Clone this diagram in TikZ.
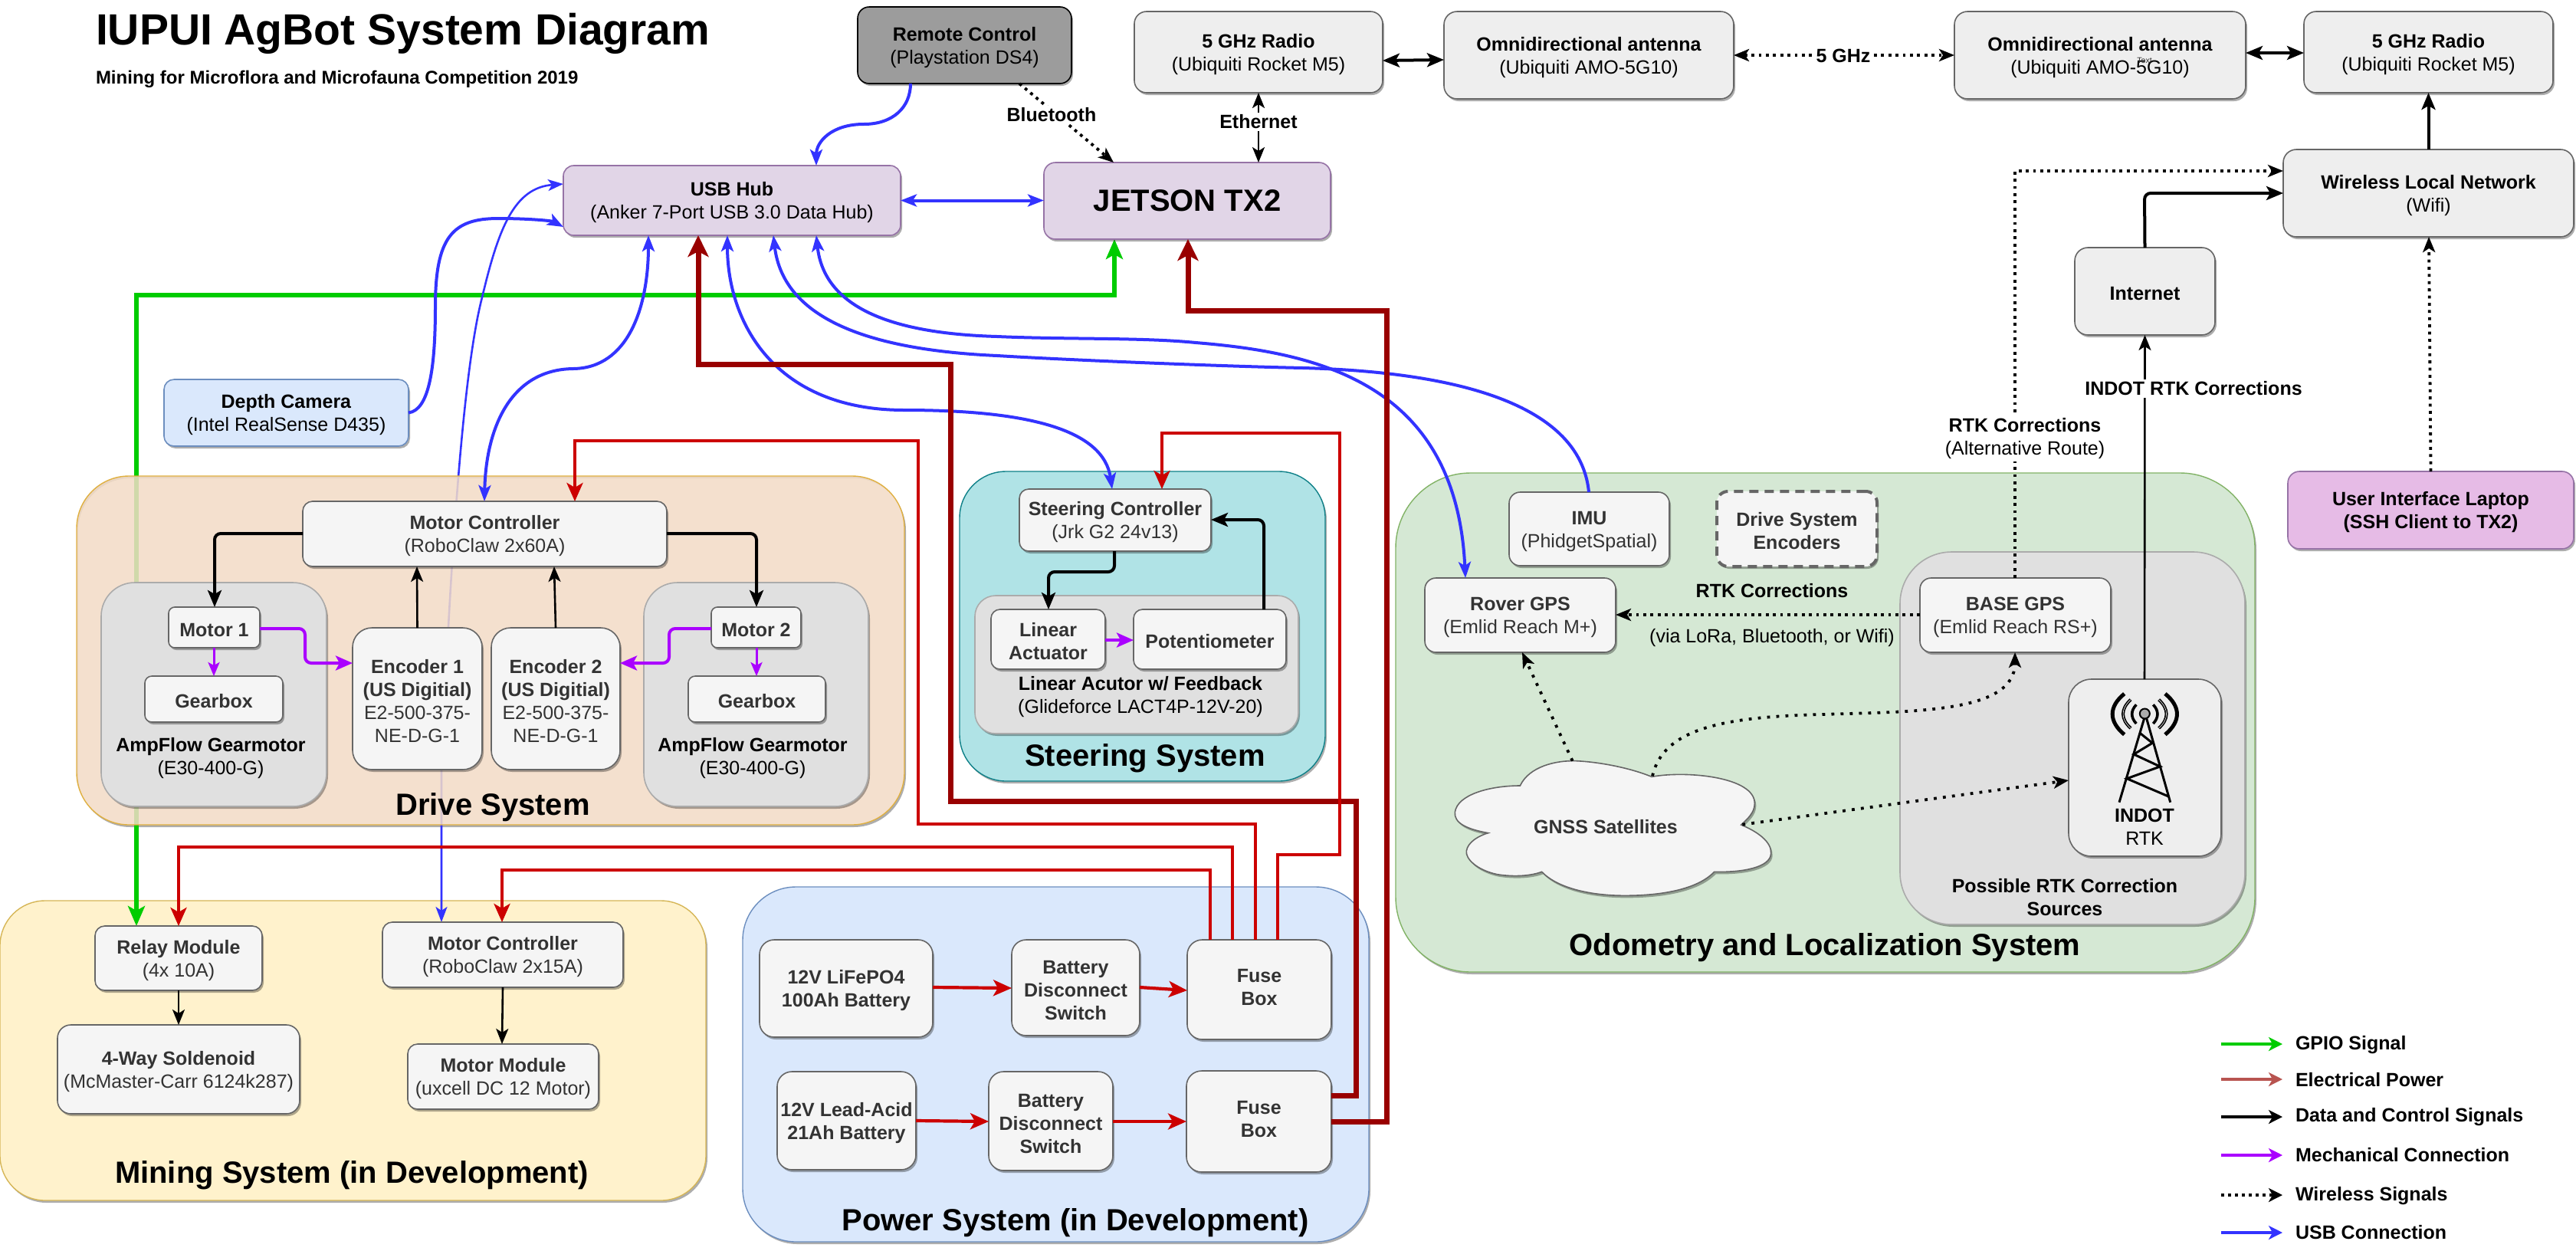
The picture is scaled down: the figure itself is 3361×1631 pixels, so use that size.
\documentclass[tikz,border=0pt]{standalone}
\usepackage{fontspec}
\setmainfont{Liberation Sans}
\usetikzlibrary{arrows.meta,shadows,calc}
\definecolor{cGreen}{HTML}{00CC00}
\definecolor{cRed}{HTML}{CC0000}
\definecolor{cDark}{HTML}{990000}
\definecolor{cBlue}{HTML}{3333FF}
\definecolor{cPurple}{HTML}{AA00FF}
\definecolor{cElec}{HTML}{B85450}
\definecolor{cText}{HTML}{333333}
\pgfdeclarelayer{back}
\pgfdeclarelayer{under}
\pgfsetlayers{back,under,main}
\colorlet{HTMLa}{black!60}
\definecolor{HTMLb}{HTML}{F5F5F5}
\definecolor{HTMLc}{HTML}{EEEEEE}
\definecolor{HTMLd}{HTML}{9673A6}
\definecolor{HTMLe}{HTML}{E1D5E7}
\definecolor{HTMLf}{HTML}{E6BBE6}
\definecolor{HTMLg}{HTML}{6C8EBF}
\definecolor{HTMLh}{HTML}{DAE8FC}
\definecolor{HTMLi}{HTML}{9C9C9C}
\definecolor{HTMLj}{HTML}{ABABAB}
\definecolor{HTMLk}{HTML}{E0E0E0}
\definecolor{HTMLl}{HTML}{D6B656}
\definecolor{HTMLm}{HTML}{FFF2CC}
\definecolor{HTMLn}{HTML}{82B366}
\definecolor{HTMLo}{HTML}{D5E8D4}
\definecolor{HTMLp}{HTML}{0E8088}
\definecolor{HTMLq}{HTML}{B0E3E6}
\definecolor{HTMLr}{HTML}{E0B040}
\definecolor{HTMLs}{HTML}{F3DCC6}
\tikzset{
  x=1pt,y=-1pt,
  shad/.style={drop shadow={shadow xshift=2pt,shadow yshift=-3pt,opacity=.32,fill=black}},
  base/.style={inner sep=0pt,outer sep=0pt,align=center,font=\fontsize{25}{30}\selectfont},
  lightbox/.style={base,shad,draw=HTMLa,fill=HTMLb,line width=1.6pt,text=cText},
  topbox/.style={base,shad,draw=HTMLa,fill=HTMLc,line width=1.6pt,text=black},
  purplebox/.style={base,shad,draw=HTMLd,fill=HTMLe,line width=1.6pt,text=black},
  lapbox/.style={base,shad,draw=HTMLd,fill=HTMLf,line width=1.6pt,text=black},
  cambox/.style={base,shad,draw=HTMLg,fill=HTMLh,line width=1.6pt,text=black},
  remotebox/.style={base,shad,draw=black,fill=HTMLi,line width=1.6pt,text=black},
  innergroup/.style={base,shad,draw=HTMLj,fill=HTMLk,line width=1.6pt},
  lbl/.style={base,text=black},
  lblw/.style={base,text=black,fill=white,inner sep=3pt},
  grp/.style={base,font=\fontsize{40}{46}\selectfont\bfseries,text=black},
  blu/.style={draw=cBlue,line width=4pt,>={Stealth[length=21pt,width=16pt,inset=5pt]}},
  blut/.style={draw=cBlue,line width=2.6pt,>={Stealth[length=20pt,width=15pt,inset=5pt]}},
  grn/.style={draw=cGreen,line width=6.4pt,>={Stealth[length=26pt,width=22pt,inset=6pt]}},
  rd/.style={draw=cRed,line width=4.2pt,>={Stealth[length=24pt,width=21pt,inset=6pt]}},
  drd/.style={draw=cDark,line width=7pt,>={Stealth[length=28pt,width=27pt,inset=7pt]}},
  blk/.style={draw=black,line width=4pt,rounded corners=8pt,>={Stealth[length=22pt,width=18pt,inset=5pt]}},
  blkt/.style={draw=black,line width=2.6pt,>={Stealth[length=20pt,width=16pt,inset=5pt]}},
  prp/.style={draw=cPurple,line width=4pt,rounded corners=8pt,>={Stealth[length=22pt,width=19pt,inset=5pt]}},
  prpt/.style={draw=cPurple,line width=3pt,>={Stealth[length=18pt,width=15pt,inset=4pt]}},
  wl/.style={draw=black,line width=3.8pt,dash pattern=on 3.8pt off 5.6pt,>={Stealth[length=20pt,width=16pt,inset=5pt]}},
  wls/.style={draw=black,line width=3.8pt,dash pattern=on 3.8pt off 8.2pt,>={Stealth[length=20pt,width=16pt,inset=5pt]}},
  lgd/.style={line width=4.6pt,>={Stealth[length=18pt,width=18pt,inset=5pt]}},
}
\newcommand{\bx}[7]{%
  \pgfmathsetmacro\myW{#4-#2}\pgfmathsetmacro\myH{#5-#3}%
  \pgfmathsetmacro\myX{(#2+#4)/2}\pgfmathsetmacro\myY{(#3+#5)/2}%
  \pgfmathsetmacro\myR{0.15*min(\myW,\myH)}%
  \node[#6,minimum width=\myW pt,minimum height=\myH pt,rounded corners=\myR pt] (#1) at (\myX,\myY) {\rule{0pt}{24pt}#7};}
\newcommand{\two}[2]{\textbf{#1}\\#2}
\begin{document}
\begin{tikzpicture}
\begin{pgfonlayer}{back}
\path[fill=white] (0,0) rectangle (3361,1631);
\end{pgfonlayer}
\useasboundingbox (0,0) rectangle (3361,1631);

% ---------- system groups
\begin{pgfonlayer}{back}
\bx{mining}{0}{1175}{921}{1566}{base,shad,draw=HTMLl,fill=HTMLm,line width=1.4pt}{}
\bx{power}{969}{1157}{1786}{1620}{base,shad,draw=HTMLg,fill=HTMLh,line width=1.4pt}{}
\bx{odo}{1821}{617}{2942}{1268}{base,shad,draw=HTMLn,fill=HTMLo,line width=1.4pt}{}
\bx{steer}{1252}{615}{1729}{1019}{base,shad,draw=HTMLp,fill=HTMLq,line width=1.4pt}{}
\fill[black,opacity=.32,even odd rule,rounded corners=68.25pt] (102,624) rectangle (1182,1079) (100,621) rectangle (1180,1076);
\end{pgfonlayer}
\bx{drive}{100}{621}{1180}{1076}{base,draw=HTMLr,fill=HTMLs,fill opacity=.86,draw opacity=1,line width=1.4pt}{}

% ---------- inner groups
\bx{mg1}{132}{760}{426}{1052}{innergroup}{}
\bx{mg2}{840}{760}{1133}{1052}{innergroup}{}
\bx{lag}{1272}{777}{1694}{957}{innergroup}{}
\bx{rtkg}{2479}{720}{2929}{1206}{innergroup}{}

% ---------- top row
\bx{remote}{1119}{9}{1398}{109}{remotebox}{\two{Remote Control}{(Playstation DS4)}}
\bx{radioL}{1480}{15}{1804}{121}{topbox}{\two{5 GHz Radio}{(Ubiquiti Rocket M5)}}
\bx{omniL}{1884}{15}{2262}{129}{topbox}{\two{Omnidirectional antenna}{(Ubiquiti AMO-5G10)}}
\bx{omniR}{2550}{15}{2930}{129}{topbox}{\two{Omnidirectional antenna}{(Ubiquiti AMO-5G10)}}
\bx{radioR}{3006}{15}{3331}{121}{topbox}{\two{5 GHz Radio}{(Ubiquiti Rocket M5)}}
\bx{wln}{2979}{195}{3358}{309}{topbox}{\two{Wireless Local Network}{(Wifi)}}
\bx{inet}{2707}{323}{2890}{437}{topbox}{\textbf{Internet}}
\bx{hub}{735}{216}{1175}{307}{purplebox}{\two{USB Hub}{(Anker 7-Port USB 3.0 Data Hub)}}
\bx{jetson}{1362}{212}{1736}{312}{purplebox,font=\fontsize{40}{46}\selectfont\bfseries}{JETSON TX2}
\bx{depth}{214}{495}{533}{582}{cambox}{\two{Depth Camera}{(Intel RealSense D435)}}
\bx{laptop}{2985}{615}{3358}{716}{lapbox}{\textbf{User Interface Laptop}\\\textbf{(SSH Client to TX2)}}

% ---------- drive
\bx{mc60}{395}{654}{870}{739}{lightbox}{\two{Motor Controller}{(RoboClaw 2x60A)}}
\bx{motor1}{220}{792}{339}{845}{lightbox}{\textbf{Motor 1}}
\bx{motor2}{928}{792}{1045}{845}{lightbox}{\textbf{Motor 2}}
\bx{gear1}{189}{882}{369}{942}{lightbox}{\textbf{Gearbox}}
\bx{gear2}{898}{882}{1077}{942}{lightbox}{\textbf{Gearbox}}
\bx{enc1}{460}{819}{629}{1004}{lightbox}{\textbf{Encoder 1}\\\textbf{(US Digitial)}\\E2-500-375-\\NE-D-G-1}
\bx{enc2}{641}{819}{809}{1004}{lightbox}{\textbf{Encoder 2}\\\textbf{(US Digitial)}\\E2-500-375-\\NE-D-G-1}
\node[lbl] (amp1) at (275,989) {\two{AmpFlow Gearmotor}{(E30-400-G)}};
\node[lbl] (amp2) at (982,989) {\two{AmpFlow Gearmotor}{(E30-400-G)}};
\node[grp] (driveT) at (643,1053) {Drive System};

% ---------- steering
\bx{sc}{1330}{638}{1580}{719}{lightbox}{\two{Steering Controller}{(Jrk G2 24v13)}}
\bx{la}{1293}{795}{1442}{873}{lightbox}{\textbf{Linear}\\\textbf{Actuator}}
\bx{pot}{1479}{795}{1678}{873}{lightbox}{\textbf{Potentiometer}}
\node[lbl] (lat) at (1488,909) {\two{Linear Acutor w/ Feedback}{(Glideforce LACT4P-12V-20)}};
\node[grp] (steerT) at (1494,989) {Steering System};

% ---------- odometry
\bx{imu}{1969}{642}{2178}{738}{lightbox}{\two{IMU}{(PhidgetSpatial)}}
\bx{dse}{2240}{641}{2449}{739}{lightbox,line width=4pt,dash pattern=on 12pt off 8pt}{\textbf{Drive System}\\\textbf{Encoders}}
\bx{rover}{1859}{754}{2108}{851}{lightbox}{\two{Rover GPS}{(Emlid Reach M+)}}
\bx{basegps}{2505}{754}{2754}{851}{lightbox}{\two{BASE GPS}{(Emlid Reach RS+)}}
\bx{indot}{2699}{886}{2898}{1117}{topbox}{}
\node[lbl] (indotT) at (2798,1079) {\two{INDOT}{RTK}};
\node[lbl] (rtkT) at (2694,1171) {\textbf{Possible RTK Correction}\\\textbf{Sources}};
\node[grp] (odoT) at (2381,1236) {Odometry and Localization System};
% tower icon
\begin{scope}[line width=3pt,draw=black]
  \draw (2798.3,935) -- (2765,1046.7) (2800,935) -- (2831.7,1046.7);
  \draw (2791.7,956) -- (2808.3,969.3) -- (2784,984) -- (2818.3,1000) -- (2775,1015.7) -- (2830,1039.3);
  \draw[fill=HTMLj,line width=2pt] (2798.3,931) circle[radius=6.5];
  \draw[line width=5pt] (2771.7,905) .. controls (2751,922) and (2751,941) .. (2771.7,958.3);
  \draw[line width=5pt] (2824.9,905) .. controls (2845.6,922) and (2845.6,941) .. (2824.9,958.3);
  \draw[line width=4pt] (2780,912.7) .. controls (2766.7,925) and (2766.7,938) .. (2780,950);
  \draw[line width=4pt] (2816.6,912.7) .. controls (2829.9,925) and (2829.9,938) .. (2816.6,950);
  \draw[line width=3.6pt] (2787.3,919.3) .. controls (2779.8,927) and (2779.8,936) .. (2787.3,944);
  \draw[line width=3.6pt] (2809.3,919.3) .. controls (2816.8,927) and (2816.8,936) .. (2809.3,944);
  \draw[line width=.7pt,draw=HTMLk] (2780,912.7) .. controls (2766.7,925) and (2766.7,938) .. (2780,950);
  \draw[line width=.7pt,draw=HTMLk] (2816.6,912.7) .. controls (2829.9,925) and (2829.9,938) .. (2816.6,950);
\end{scope}
% cloud
\begin{scope}[shift={(1880,980)},x=0.33333pt,y=-0.33333pt]
  \path[shad,draw=HTMLa,fill=HTMLb,line width=1.6pt]
    (310,135) .. controls (345,60) and (450,35) .. (530,38)
    .. controls (620,42) and (740,65) .. (825,100)
    .. controls (960,75) and (1230,100) .. (1228,205)
    .. controls (1228,240) and (1200,265) .. (1175,288)
    .. controls (1240,315) and (1295,355) .. (1292,400)
    .. controls (1290,455) and (1180,475) .. (1070,472)
    .. controls (1000,545) and (850,565) .. (720,565)
    .. controls (570,565) and (450,530) .. (395,472)
    .. controls (340,492) and (270,490) .. (220,482)
    .. controls (140,465) and (95,420) .. (100,390)
    .. controls (105,355) and (150,330) .. (185,320)
    .. controls (100,305) and (50,280) .. (55,238)
    .. controls (65,170) and (190,135) .. (310,135) -- cycle;
  \coordinate (gnssTop) at (515,38);
  \coordinate (gnssNotch) at (828,97);
  \coordinate (gnssRight) at (1180,287);
\end{scope}
\node[lbl,text=cText] (gnss) at (2095,1079) {\textbf{GNSS Satellites}};

% ---------- mining
\bx{relay}{124}{1208}{342}{1292}{lightbox}{\two{Relay Module}{(4x 10A)}}
\bx{sol}{75}{1337}{391}{1453}{lightbox}{\two{4-Way Soldenoid}{(McMaster-Carr 6124k287)}}
\bx{mc15}{499}{1203}{813}{1288}{lightbox}{\two{Motor Controller}{(RoboClaw 2x15A)}}
\bx{mm}{532}{1362}{781}{1447}{lightbox}{\two{Motor Module}{(uxcell DC 12 Motor)}}
\node[grp] (miningT) at (459,1533) {Mining System (in Development)};

% ---------- power
\bx{life}{991}{1226}{1217}{1353}{lightbox}{\textbf{12V LiFePO4}\\\textbf{100Ah Battery}}
\bx{bds1}{1320}{1226}{1487}{1351}{lightbox}{\textbf{Battery}\\\textbf{Disconnect}\\\textbf{Switch}}
\bx{fuse1}{1549}{1226}{1737}{1356}{lightbox}{\textbf{Fuse}\\\textbf{Box}\rule[-14pt]{0pt}{14pt}}
\bx{lead}{1014}{1398}{1195}{1526}{lightbox}{\textbf{12V Lead-Acid}\\\textbf{21Ah Battery}}
\bx{bds2}{1290}{1398}{1452}{1527}{lightbox}{\textbf{Battery}\\\textbf{Disconnect}\\\textbf{Switch}}
\bx{fuse2}{1548}{1397}{1737}{1529}{lightbox}{\textbf{Fuse}\\\textbf{Box}\rule[-14pt]{0pt}{14pt}}
\node[grp] (powerT) at (1403,1595) {Power System (in Development)};

% ---------- connectors behind the drive group
\begin{pgfonlayer}{under}
\draw[grn,<->] (1454,0 |- jetson.south) -- (1454,385) -- (178,385) -- (178,0 |- relay.north);
\draw[blut,<->] (hub.west |- 0,240) .. controls (670,245) and (650,300) .. (629,388)
   .. controls (600,500) and (585,800) .. (576,1000) -- (576,0 |- mc15.north);
\end{pgfonlayer}

% ---------- USB
\draw[blu,->] (1188,0 |- remote.south) .. controls (1188,140) and (1165,162) .. (1127,162)
   .. controls (1085,162) and (1065,185) .. (1065,0 |- hub.north);
\draw[blu,<->] (hub.east) -- (jetson.west |- hub.east);
\draw[blu,->] (depth.east) .. controls (560,535) and (568,480) .. (568,400)
   .. controls (568,310) and (590,285) .. (650,285) .. controls (690,285) and (720,288) .. (hub.west |- 0,296);
\draw[blu,<->] (846,0 |- hub.south) .. controls (846,400) and (820,480) .. (748,481)
   .. controls (665,482) and (634,560) .. (632,0 |- mc60.north);
\draw[blu,<->] (949,0 |- hub.south) .. controls (949,420) and (1010,535) .. (1180,535)
   .. controls (1340,535) and (1440,560) .. (1451,0 |- sc.north);
\draw[blu,->] (2073,0 |- imu.north) .. controls (2060,510) and (1850,484) .. (1700,480)
   .. controls (1600,478) and (1400,470) .. (1301,464)
   .. controls (1100,455) and (1020,400) .. (1009,0 |- hub.south);
\draw[blu,<->] (1065,0 |- hub.south) .. controls (1075,400) and (1160,435) .. (1301,439)
   .. controls (1390,443) and (1490,440) .. (1560,447)
   .. controls (1720,460) and (1900,500) .. (1912,0 |- rover.north);

% ---------- power lines
\draw[drd,->] (fuse2.east |- 0,1429) -- (1769,1429) -- (1769,1045) -- (1240,1045) -- (1240,475) -- (911,475) -- (911,0 |- hub.south);
\draw[drd,->] (fuse2.east |- 0,1463) -- (1809,1463) -- (1809,405) -- (1550,405) -- (1550,0 |- jetson.south);
\draw[rd,->] (1638,0 |- fuse1.north) -- (1638,1075) -- (1198,1075) -- (1198,575) -- (750,575) -- (750,0 |- mc60.north);
\draw[rd,->] (1667,0 |- fuse1.north) -- (1667,1115) -- (1748,1115) -- (1748,565) -- (1516,565) -- (1516,0 |- sc.north);
\draw[rd,->] (1608,0 |- fuse1.north) -- (1608,1105) -- (233,1105) -- (233,0 |- relay.north);
\draw[rd,->] (1579,0 |- fuse1.north) -- (1579,1135) -- (655,1135) -- (655,0 |- mc15.north);
\draw[rd,->] (life.east |- 0,1288) -- (bds1.west |- 0,1289);
\draw[rd,->] (bds1.east |- 0,1288) -- (fuse1.west |- 0,1292);
\draw[rd,->] (lead.east |- 0,1462) -- (bds2.west |- 0,1463);
\draw[rd,->] (bds2.east |- 0,1463) -- (fuse2.west |- 0,1463);

% ---------- data
\draw[blk,->] (mc60.west |- 0,696) -- (280,696) -- (280,0 |- motor1.north);
\draw[blk,->] (mc60.east |- 0,696) -- (987,696) -- (987,0 |- motor2.north);
\draw[blkt,->] (enc1.north) -- (544,0 |- mc60.south);
\draw[blkt,->] (enc2.north) -- (723,0 |- mc60.south);
\draw[blk,->] (1454,0 |- sc.south) -- (1454,746) -- (1368,746) -- (1368,0 |- la.north);
\draw[blk,->] (1649,0 |- pot.north) -- (1649,678) -- (sc.east |- 0,678);
\draw[blkt,->] (relay.south) -- (233,0 |- sol.north);
\draw[blkt,->] (mc15.south) -- (655,0 |- mm.north);
\draw[blk,<->] (radioL.east |- 0,79) -- (omniL.west |- 0,78);
\draw[blk,<->] (omniR.east |- 0,69) -- (radioR.west |- 0,69);
\draw[blk,->] (wln.north) -- (wln.north |- radioR.south);
\draw[blk,->] (inet.north) -- (2798,252) -- (wln.west |- 0,252);
\draw[blkt,->] (2798,0 |- indot.north) -- (inet.south);
\draw[blkt,<->] (1642,0 |- radioL.south) -- (1642,0 |- jetson.north);

% ---------- mechanical
\draw[prp,->] (motor1.east |- 0,820) -- (398,820) -- (398,865) -- (enc1.west |- 0,865);
\draw[prp,->] (motor2.west |- 0,820) -- (873,820) -- (873,865) -- (enc2.east |- 0,865);
\draw[prpt,->] (279,0 |- motor1.south) -- (279,0 |- gear1.north);
\draw[prpt,->] (987,0 |- motor2.south) -- (987,0 |- gear2.north);
\draw[prp,->] (la.east |- 0,835) -- (pot.west |- 0,835);

% ---------- wireless
\draw[wl,->] (1330,0 |- remote.south) -- (1453,0 |- jetson.north);
\draw[wl,<->] (omniL.east |- 0,72) -- (omniR.west |- 0,72);
\draw[wl,->] (2629,0 |- basegps.north) -- (2629,223) -- (wln.west |- 0,223);
\draw[wl,->] (laptop.north) -- (3169,0 |- wln.south);
\draw[wl,->] (basegps.west |- 0,802) -- (rover.east |- 0,802);
\draw[wls,->] (gnssTop) -- (1986,0 |- rover.south);
\draw[wls,->] (gnssNotch) .. controls (2170,950) and (2250,935) .. (2378,932)
   .. controls (2500,928) and (2629,930) .. (2629,0 |- basegps.south);
\draw[wls,->] (gnssRight) -- (indot.west |- 0,1018);

% ---------- connector labels
\node[lblw] (btL) at (1372,150) {\textbf{Bluetooth}};
\node[lblw] (ethL) at (1642,159) {\textbf{Ethernet}};
\node[lblw] (ghzL) at (2405,73) {\textbf{5 GHz}};
\node[lblw] (indotL) at (2862,507) {\textbf{INDOT RTK Corrections}};
\node[lblw] (altL) at (2642,572) {\two{RTK Corrections}{(Alternative Route)}};
\node[lbl] (rtkL1) at (2312,771) {\textbf{RTK Corrections}};
\node[lbl] (rtkL2) at (2312,832) {(via LoRa, Bluetooth, or Wifi)};
\node[base,font=\fontsize{10.5}{12}\selectfont,text=cText] (stray) at (2798,79) {Text};

% ---------- title
\node[base,anchor=west,font=\fontsize{57}{66}\selectfont\bfseries,text=black] (title) at (125,44) {IUPUI AgBot System Diagram};
\node[base,anchor=west,font=\fontsize{24}{28}\selectfont\bfseries,text=black] (subtitle) at (125,103) {Mining for Microflora and Microfauna Competition 2019};

% ---------- legend
\foreach \nm/\yy/\ty/\cc/\txt in {a/1362/1363/cGreen/GPIO Signal,b/1408/1409/cElec/Electrical Power,c/1457/1457/black/Data and Control Signals,d/1507/1507/cPurple/Mechanical Connection,f/1608/1608/cBlue/USB Connection}{
  \coordinate (lgs\nm) at (2898,\yy);
  \coordinate (lge\nm) at (2978,\yy);
  \draw[lgd,draw=\cc,->] (lgs\nm) -- (lge\nm);
  \node[lbl,anchor=west] (lgt\nm) at (2995,\ty) {\textbf{\txt}};
}
\coordinate (lgse) at (2898,1559);
\coordinate (lgee) at (2978,1559);
\draw[line width=3.8pt,draw=black,dash pattern=on 3.5pt off 5.5pt,>={Stealth[length=18pt,width=18pt,inset=5pt]},->] (lgse) -- (lgee);
\node[lbl,anchor=west] (lgte) at (2995,1560) {\textbf{Wireless Signals}};
\end{tikzpicture}
\end{document}
